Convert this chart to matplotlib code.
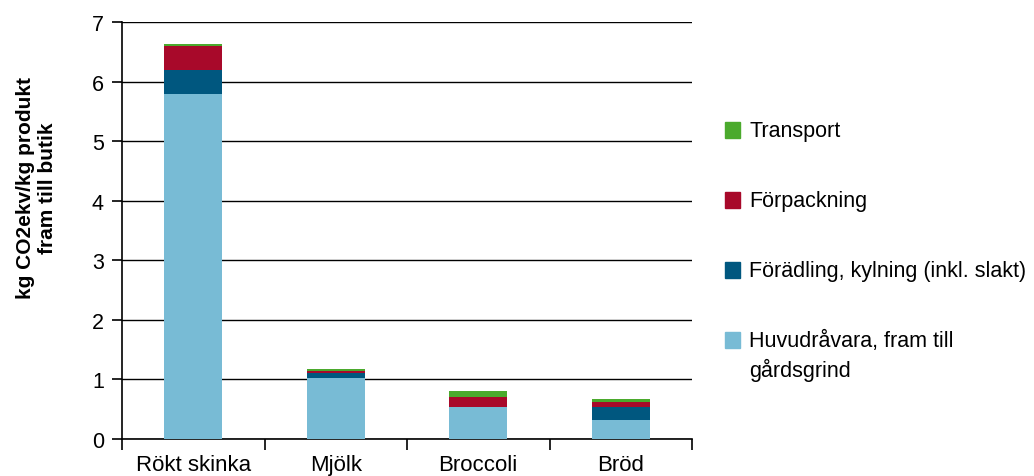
import matplotlib
matplotlib.use("Agg")
import matplotlib.pyplot as plt
from matplotlib.patches import Rectangle
import numpy as np

categories = ["Rökt skinka", "Mjölk", "Broccoli", "Bröd"]
huvudravara = [5.79, 1.02, 0.53, 0.32]
foradling = [0.40, 0.09, 0.00, 0.22]
forpackning = [0.40, 0.035, 0.18, 0.08]
transport = [0.045, 0.025, 0.10, 0.05]

series_labels = ["Huvudråvara, fram till\ngårdsgrind",
                 "Förädling, kylning (inkl. slakt)",
                 "Förpackning",
                 "Transport"]
colors = ["#78BBD5", "#00577F", "#A8092A", "#4BAA2D"]
yticks = [0, 1, 2, 3, 4, 5, 6, 7]
ylabel = "kg CO2ekv/kg produkt\nfram till butik"

plt.rcParams['font.family'] = ['Liberation Sans', 'DejaVu Sans']

W, H = 1034, 477
fig = plt.figure(figsize=(W / 100, H / 100), dpi=100)
ax = fig.add_axes([122 / W, (H - 440) / H, (692 - 122) / W, (440 - 23) / H])

x = np.arange(len(categories))
bottom = np.zeros(len(categories))
for vals, c in zip([huvudravara, foradling, forpackning, transport], colors):
    ax.bar(x, vals, bottom=bottom, width=0.41, color=c, zorder=3, linewidth=0)
    bottom += np.array(vals)

ax.set_xlim(-0.5, len(categories) - 0.5)
ax.set_ylim(0, 7)
ax.set_yticks(yticks)
ax.yaxis.grid(True, color="black", linewidth=1.0, zorder=0)
ax.set_axisbelow(True)
for s in ["top", "right"]:
    ax.spines[s].set_visible(False)
for s in ["left", "bottom"]:
    ax.spines[s].set_color("black")
    ax.spines[s].set_linewidth(1.2)

ax.set_xticks(x)
ax.set_xticklabels(categories, fontsize=16)
ax.tick_params(axis="x", which="major", length=0, pad=10.5)
ax.set_xticks(np.arange(-0.5, len(categories)), minor=True)
ax.tick_params(axis="x", which="minor", length=8, width=1.2, color="black")
ax.tick_params(axis="y", length=7, width=1.2, labelsize=15.5, pad=6)

fig.text(37 / W, (H - 188) / H, ylabel, fontsize=15, fontweight="bold",
         rotation=90, ha="center", va="center", multialignment="center",
         linespacing=1.2)

# Legend (manual)
rows = [131, 201, 271, 341]
order = [3, 2, 1, 0]
for yrow, idx in zip(rows, order):
    fig.patches.append(Rectangle((725 / W, (H - yrow - 8) / H), 15 / W, 16 / H,
                                 transform=fig.transFigure, color=colors[idx]))
    fig.text(749 / W, (H - yrow) / H, series_labels[idx].split("\n")[0],
             fontsize=15.5, va="center", ha="left")
    if "\n" in series_labels[idx]:
        fig.text(749 / W, (H - yrow - 29) / H, series_labels[idx].split("\n")[1],
                 fontsize=15.5, va="center", ha="left")

fig.savefig("out.png", dpi=100)
